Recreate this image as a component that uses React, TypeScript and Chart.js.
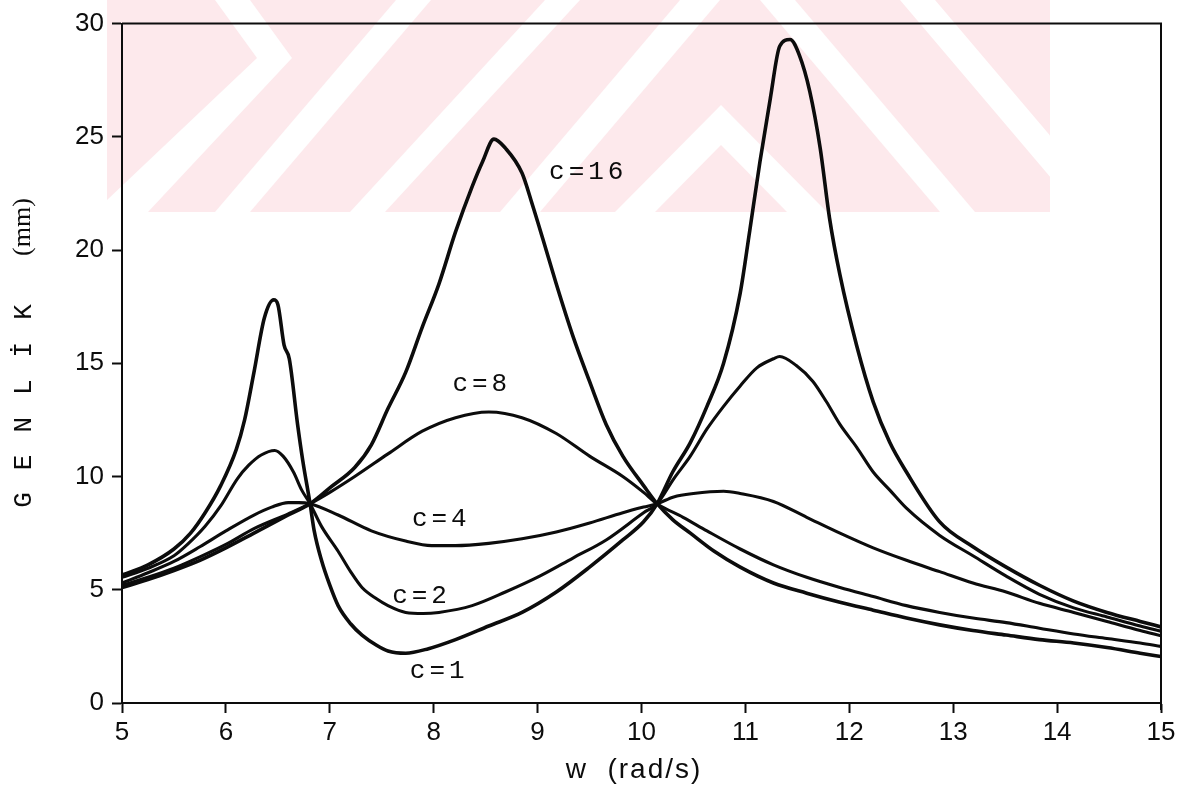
import { useEffect, useRef } from "react";
import { Chart, registerables } from "chart.js";

Chart.register(...registerables);

// Frequency response of the two-mass system for damping values c = 1, 2, 4, 8, 16
const wC1 = [5.0, 5.25, 5.5, 5.66, 5.8, 5.95, 6.1, 6.18, 6.27, 6.37, 6.46, 6.5, 6.56, 6.61, 6.69, 6.74, 6.81, 6.85, 6.92, 7.0, 7.08, 7.2, 7.31, 7.45, 7.56, 7.73, 7.95, 8.21, 8.53, 8.85, 9.18, 9.5, 9.82, 10.02, 10.15, 10.3, 10.47, 10.63, 10.79, 10.95, 11.04, 11.14, 11.24, 11.33, 11.43, 11.52, 11.62, 11.72, 11.81, 11.91, 12.07, 12.23, 12.39, 12.55, 12.87, 13.19, 13.51, 13.83, 14.16, 14.48, 14.8, 15.0];
const ampC1 = [5.65, 6.1, 6.8, 7.5, 8.4, 9.6, 11.2, 12.5, 14.6, 17.0, 17.8, 17.6, 15.8, 15.2, 12.3, 10.7, 8.8, 7.6, 6.3, 5.2, 4.3, 3.5, 3.0, 2.55, 2.3, 2.2, 2.4, 2.8, 3.4, 4.0, 4.9, 6.0, 7.2, 8.0, 8.8, 10.2, 11.5, 13.1, 15.0, 18.1, 20.8, 23.9, 26.7, 29.0, 29.3, 28.6, 27.0, 24.5, 21.4, 18.9, 15.8, 13.3, 11.5, 10.2, 8.0, 6.9, 6.0, 5.2, 4.5, 4.0, 3.6, 3.36];

const wC2 = [5.0, 5.25, 5.5, 5.63, 5.8, 5.95, 6.11, 6.22, 6.34, 6.47, 6.55, 6.65, 6.73, 6.81, 6.92, 7.08, 7.2, 7.31, 7.45, 7.56, 7.73, 7.9, 8.05, 8.37, 8.69, 9.02, 9.34, 9.66, 10.02, 10.15, 10.31, 10.47, 10.63, 10.79, 10.95, 11.11, 11.27, 11.33, 11.49, 11.65, 11.78, 11.91, 12.07, 12.23, 12.39, 12.55, 12.87, 13.19, 13.51, 13.83, 14.16, 14.48, 14.8, 15.0];
const ampC2 = [5.55, 5.95, 6.5, 7.0, 7.8, 8.7, 9.9, 10.5, 10.95, 11.15, 10.9, 10.2, 9.4, 8.8, 7.8, 6.7, 5.8, 5.1, 4.6, 4.3, 4.0, 3.95, 4.0, 4.3, 4.9, 5.6, 6.4, 7.2, 8.4, 8.8, 9.9, 10.9, 12.1, 13.1, 14.0, 14.8, 15.2, 15.3, 14.9, 14.2, 13.3, 12.3, 11.3, 10.2, 9.4, 8.6, 7.4, 6.5, 5.6, 4.8, 4.2, 3.8, 3.4, 3.17];

const wC4 = [5.0, 5.25, 5.5, 5.75, 6.0, 6.27, 6.44, 6.6, 6.7, 6.81, 7.08, 7.4, 7.73, 7.98, 8.21, 8.53, 8.85, 9.18, 9.5, 9.82, 10.02, 10.15, 10.31, 10.5, 10.79, 10.95, 11.27, 11.59, 11.91, 12.23, 12.55, 12.87, 13.19, 13.51, 13.83, 14.16, 14.48, 14.8, 15.0];
const ampC4 = [5.3, 5.75, 6.25, 6.9, 7.6, 8.3, 8.65, 8.85, 8.85, 8.8, 8.3, 7.6, 7.15, 6.95, 6.95, 7.05, 7.25, 7.55, 7.95, 8.4, 8.65, 8.8, 9.1, 9.25, 9.35, 9.25, 8.9, 8.2, 7.5, 6.85, 6.3, 5.8, 5.3, 4.9, 4.4, 4.0, 3.6, 3.2, 2.97];

const wC8 = [5.0, 5.25, 5.5, 5.75, 6.0, 6.27, 6.6, 6.81, 7.0, 7.24, 7.56, 7.89, 8.21, 8.53, 8.85, 9.18, 9.5, 9.82, 10.02, 10.15, 10.4, 10.63, 10.95, 11.27, 11.59, 11.91, 12.23, 12.55, 12.87, 13.19, 13.51, 13.83, 14.16, 14.48, 14.8, 15.0];
const ampC8 = [5.2, 5.55, 5.95, 6.45, 7.0, 7.7, 8.35, 8.8, 9.3, 10.0, 11.0, 12.0, 12.6, 12.85, 12.6, 11.9, 10.9, 10.0, 9.3, 8.8, 8.2, 7.6, 6.8, 6.1, 5.55, 5.1, 4.7, 4.3, 4.0, 3.75, 3.55, 3.3, 3.05, 2.85, 2.65, 2.5];

const wC16 = [5.0, 5.25, 5.5, 5.75, 6.0, 6.27, 6.6, 6.81, 7.0, 7.24, 7.4, 7.56, 7.73, 7.89, 8.05, 8.21, 8.37, 8.47, 8.58, 8.69, 8.85, 8.95, 9.05, 9.18, 9.34, 9.5, 9.66, 9.82, 10.02, 10.15, 10.3, 10.47, 10.7, 10.95, 11.27, 11.59, 11.91, 12.23, 12.55, 12.87, 13.19, 13.51, 13.83, 14.16, 14.48, 14.8, 15.0];
const ampC16 = [5.1, 5.45, 5.85, 6.3, 6.85, 7.5, 8.3, 8.8, 9.5, 10.4, 11.4, 13.0, 14.6, 16.6, 18.5, 20.8, 22.8, 23.9, 24.9, 24.5, 23.4, 22.0, 20.5, 18.5, 16.2, 14.2, 12.3, 10.9, 9.6, 8.8, 8.1, 7.5, 6.7, 6.0, 5.3, 4.85, 4.45, 4.1, 3.75, 3.45, 3.2, 3.0, 2.8, 2.65, 2.45, 2.2, 2.05];

// In-plot curve labels: text and anchor (left edge w, vertical centre amplitude)
const curveLabelText = ["c=16", "c=8", "c=4", "c=2", "c=1"];
const curveLabelW = [9.11, 8.18, 7.79, 7.6, 7.77];
const curveLabelAmp = [23.45, 14.1, 8.1, 4.7, 1.4];

// Axis ranges and tick steps
const wMin = 5;
const wMax = 15;
const wStep = 1;
const ampMin = 0;
const ampMax = 30;
const ampStep = 5;

const yTitleLetters = ["G", "E", "N", "L", "İ", "K"];
const yTitleUnit = "(mm)";
const xTitle = "w  (rad/s)";

const INK = "#0c0c0c";
const PINK = "#fde9ec";

const toPoints = (ws: number[], amps: number[]) => ws.map((w, i) => ({ x: w, y: amps[i] }));

type Pt = [number, number];

function fillPoly(ctx: CanvasRenderingContext2D, pts: Pt[], color: string) {
  ctx.beginPath();
  ctx.moveTo(pts[0][0], pts[0][1]);
  for (let i = 1; i < pts.length; i++) ctx.lineTo(pts[i][0], pts[i][1]);
  ctx.closePath();
  ctx.fillStyle = color;
  ctx.fill();
}

// Faint pink emblem printed behind the upper part of the figure
const emblemPlugin = {
  id: "emblem",
  beforeDraw(chart: any) {
    const ctx: CanvasRenderingContext2D = chart.ctx;
    ctx.save();
    ctx.beginPath();
    ctx.rect(107, 0, 943, 212);
    ctx.clip();
    ctx.fillStyle = PINK;
    ctx.fillRect(107, 0, 943, 212);
    const W = "#ffffff";
    // left chevron
    fillPoly(ctx, [[215, 0], [250, 0], [292, 58], [148, 212], [107, 212], [107, 200], [257, 58]], W);
    // rising stripes
    fillPoly(ctx, [[215, 212], [250, 212], [431, 0], [396, 0]], W);
    fillPoly(ctx, [[350, 212], [385, 212], [580, 0], [545, 0]], W);
    fillPoly(ctx, [[500, 212], [540, 212], [720, 0], [680, 0]], W);
    // peaked band
    fillPoly(ctx, [[721, 105], [827, 212], [615, 212]], W);
    fillPoly(ctx, [[721, 145], [787, 212], [655, 212]], PINK);
    // falling stripes
    fillPoly(ctx, [[760, 0], [795, 0], [975, 212], [940, 212]], W);
    fillPoly(ctx, [[900, 0], [935, 0], [1115, 212], [1080, 212]], W);
    ctx.restore();
  },
};

// Closes the frame on the top and right sides
const framePlugin = {
  id: "frame",
  beforeDatasetsDraw(chart: any) {
    const { ctx, chartArea } = chart;
    ctx.save();
    ctx.strokeStyle = INK;
    ctx.lineWidth = 2;
    ctx.beginPath();
    ctx.moveTo(chartArea.left, chartArea.top);
    ctx.lineTo(chartArea.right, chartArea.top);
    ctx.lineTo(chartArea.right, chartArea.bottom + 7);
    ctx.stroke();
    ctx.restore();
  },
};

// Curve labels and axis titles
const textPlugin = {
  id: "texts",
  afterDraw(chart: any) {
    const ctx: CanvasRenderingContext2D = chart.ctx;
    const xs = chart.scales.x;
    const ys = chart.scales.y;
    ctx.save();
    ctx.fillStyle = INK;

    ctx.font = '26px "Liberation Mono"';
    (ctx as any).letterSpacing = "4px";
    ctx.textAlign = "left";
    ctx.textBaseline = "middle";
    curveLabelText.forEach((t, i) => {
      ctx.fillText(t, xs.getPixelForValue(curveLabelW[i]), ys.getPixelForValue(curveLabelAmp[i]));
    });

    // vertical title: spaced capitals followed by the unit
    (ctx as any).letterSpacing = "0px";
    ctx.textAlign = "center";
    yTitleLetters.forEach((ch, i) => {
      ctx.save();
      ctx.translate(24, 500 - i * 37.6);
      ctx.rotate(-Math.PI / 2);
      ctx.font = '26px "Liberation Mono"';
      ctx.fillText(ch, 0, 0);
      ctx.restore();
    });
    ctx.save();
    ctx.translate(23, 227);
    ctx.rotate(-Math.PI / 2);
    ctx.font = '26px "Liberation Serif"';
    ctx.fillText(yTitleUnit, 0, 0);
    ctx.restore();

    // horizontal title
    ctx.font = '28px "Liberation Sans"';
    (ctx as any).letterSpacing = "2px";
    ctx.textAlign = "center";
    ctx.fillText(xTitle, 634, 770);
    ctx.restore();
  },
};

export default function App() {
  const canvasRef = useRef<HTMLCanvasElement>(null);

  useEffect(() => {
    if (!canvasRef.current) return;
    const lineStyle = {
      borderColor: INK,
      pointRadius: 0,
      fill: false,
      cubicInterpolationMode: "monotone" as const,
      borderJoinStyle: "round" as const,
      borderCapStyle: "round" as const,
    };
    const tickFont = { family: "Liberation Sans", size: 26 };
    const chart = new Chart(canvasRef.current, {
      type: "line",
      data: {
        datasets: [
          { label: "c=1", data: toPoints(wC1, ampC1), borderWidth: 3.6, ...lineStyle },
          { label: "c=2", data: toPoints(wC2, ampC2), borderWidth: 3.1, ...lineStyle },
          { label: "c=4", data: toPoints(wC4, ampC4), borderWidth: 3.1, ...lineStyle },
          { label: "c=8", data: toPoints(wC8, ampC8), borderWidth: 3.1, ...lineStyle },
          { label: "c=16", data: toPoints(wC16, ampC16), borderWidth: 3.6, ...lineStyle },
        ],
      },
      options: {
        responsive: false,
        animation: false,
        devicePixelRatio: 1,
        layout: { padding: { left: 0, right: 31, top: 15, bottom: 0 } },
        plugins: { legend: { display: false }, tooltip: { enabled: false } },
        scales: {
          x: {
            type: "linear",
            min: wMin,
            max: wMax,
            ticks: {
              stepSize: wStep,
              autoSkip: false,
              maxRotation: 0,
              font: tickFont,
              color: INK,
              padding: 4,
            },
            grid: {
              drawOnChartArea: false,
              drawTicks: true,
              tickLength: 10,
              tickColor: INK,
              tickWidth: 2,
            },
            border: { display: true, color: INK, width: 2 },
            afterFit: (s: any) => {
              s.height = 88;
            },
          },
          y: {
            type: "linear",
            min: ampMin,
            max: ampMax,
            ticks: {
              stepSize: ampStep,
              font: tickFont,
              color: INK,
              padding: 8,
            },
            grid: {
              drawOnChartArea: false,
              drawTicks: true,
              tickLength: 10,
              tickColor: INK,
              tickWidth: 2,
            },
            border: { display: true, color: INK, width: 2 },
            afterFit: (s: any) => {
              s.width = 122;
            },
          },
        },
      },
      plugins: [emblemPlugin, framePlugin, textPlugin],
    });
    return () => chart.destroy();
  }, []);

  return (
    <div style={{ position: "absolute", left: 0, top: 0, width: 1192, height: 791, background: "#ffffff" }}>
      <canvas ref={canvasRef} width={1192} height={791} style={{ display: "block" }} />
    </div>
  );
}
